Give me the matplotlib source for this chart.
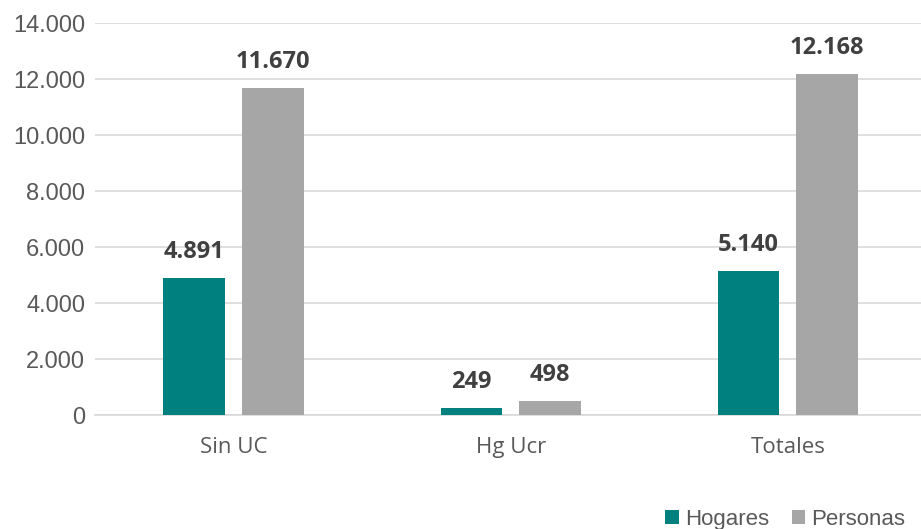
import matplotlib
matplotlib.use("Agg")
import matplotlib.pyplot as plt
from matplotlib.ticker import FuncFormatter
import numpy as np

categorias = ["Sin UC", "Hg Ucr", "Totales"]
hogares = [4891, 249, 5140]
personas = [11670, 498, 12168]
series = ["Hogares", "Personas"]

teal = "#00807F"
gris = "#A6A6A6"
narrow = ["Liberation Sans Narrow", "Liberation Sans"]

fig = plt.figure(figsize=(9.21, 5.29), dpi=100)
ax = fig.add_axes([95 / 921, 1 - 415 / 529, 1 - 95 / 921, (415 - 23) / 529])

x = np.arange(len(categorias))
w = 0.223
off = 0.142
b1 = ax.bar(x - off, hogares, w, color=teal, label=series[0], zorder=3)
b2 = ax.bar(x + off, personas, w, color=gris, label=series[1], zorder=3)

def fmt(v):
    return f"{int(v):,}".replace(",", ".")

for bars in (b1, b2):
    for r in bars:
        ax.text(r.get_x() + r.get_width() / 2, r.get_height() + 500, fmt(r.get_height()),
                ha="center", va="bottom", fontsize=17, fontweight="bold",
                color="#404040", family="Open Sans")

ax.set_ylim(0, 14000)
ax.set_xlim(-0.5, 2.48)
ax.set_yticks(range(0, 14001, 2000))
ax.yaxis.set_major_formatter(FuncFormatter(lambda v, p: fmt(v)))
ax.grid(axis="y", color="#D9D9D9", linewidth=1.2, zorder=0)
ax.set_xticks(x)
ax.set_xticklabels(categorias, fontsize=16, color="#595959", family="Open Sans")
for lab in ax.get_yticklabels():
    lab.set_fontsize(17)
    lab.set_color("#595959")
    lab.set_family(narrow)
ax.tick_params(length=0)
ax.tick_params(axis="x", pad=16)
ax.tick_params(axis="y", pad=7)
for s in ["top", "right", "left"]:
    ax.spines[s].set_visible(False)
ax.spines["bottom"].set_color("#D9D9D9")
ax.spines["bottom"].set_linewidth(1.2)

fig.legend(handles=[b1, b2], labels=series, loc="lower right",
           bbox_to_anchor=(1.005, -0.04), ncol=2, frameon=False,
           prop={"family": narrow, "size": 16},
           handlelength=0.6, handleheight=0.6, handletextpad=0.3,
           columnspacing=1.0, labelcolor="#595959")

fig.savefig("out.png", dpi=100)
